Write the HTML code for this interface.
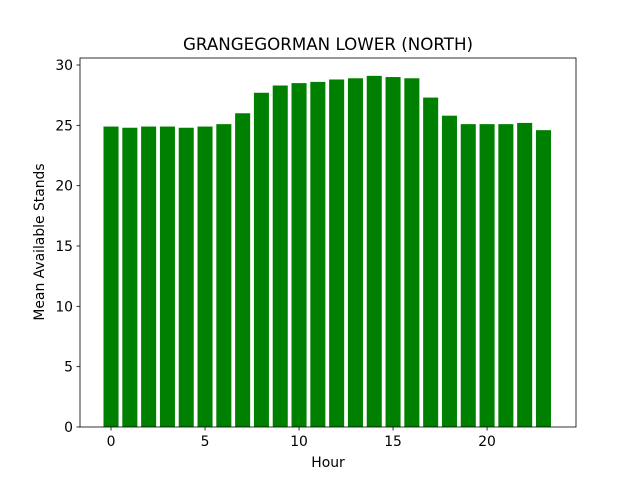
<!DOCTYPE html>
<html><head><meta charset="utf-8"><style>body{margin:0;background:#fff}svg{display:block;font-family:"DejaVu Sans","Liberation Sans",sans-serif}</style></head>
<body>
<svg id="chart" width="640" height="480" xmlns="http://www.w3.org/2000/svg">
<rect width="640" height="480" fill="#fff"/>
<text x="328" y="50" text-anchor="middle" font-size="16.7">GRANGEGORMAN LOWER (NORTH)</text>
<g id="bars"></g><g id="axes"></g>
<text x="328" y="467" text-anchor="middle" font-size="13.9">Hour</text>
<text transform="translate(44,242) rotate(-90)" text-anchor="middle" font-size="13.9">Mean Available Stands</text>
</svg>
<script>
const hours=[0,1,2,3,4,5,6,7,8,9,10,11,12,13,14,15,16,17,18,19,20,21,22,23];
const meanStands=[24.9,24.8,24.9,24.9,24.8,24.9,25.1,26.0,27.7,28.3,28.5,28.6,28.8,28.9,29.1,29.0,28.9,27.3,25.8,25.1,25.1,25.1,25.2,24.6];
const xTicks=[0,5,10,15,20];
const yTicks=[0,5,10,15,20,25,30];
const L=80,R=576,T=58,B=427,xMin=-1.65,xMax=24.73,yMin=0,yMax=30.58;
const x=v=>L+(v-xMin)/(xMax-xMin)*(R-L);
const y=v=>B-(v-yMin)/(yMax-yMin)*(B-T);
const NS="http://www.w3.org/2000/svg";
function mk(t,a,p){const e=document.createElementNS(NS,t);for(const k in a)e.setAttribute(k,a[k]);p.appendChild(e);return e;}
const bars=document.getElementById('bars'),axes=document.getElementById('axes');
hours.forEach((h,i)=>{const r=mk('rect',{x:x(h-0.4),y:y(meanStands[i]),width:x(h+0.4)-x(h-0.4),height:y(0)-y(meanStands[i]),fill:'#008000'},bars);

});
const fr=mk('rect',{x:L,y:T,width:R-L,height:B-T,fill:'none',stroke:'#000','stroke-width':0.8},axes);


xTicks.forEach(v=>{mk('line',{x1:x(v),x2:x(v),y1:B,y2:B+3.5,stroke:'#000','stroke-width':0.8},axes);
const t=mk('text',{x:x(v),y:B+19,'text-anchor':'middle','font-size':13.9},axes);t.textContent=v;

});
yTicks.forEach(v=>{mk('line',{x1:L-3.5,x2:L,y1:y(v),y2:y(v),stroke:'#000','stroke-width':0.8},axes);
const t=mk('text',{x:L-7,y:y(v)+5,'text-anchor':'end','font-size':13.9},axes);t.textContent=v;

});
</script>
</body></html>
